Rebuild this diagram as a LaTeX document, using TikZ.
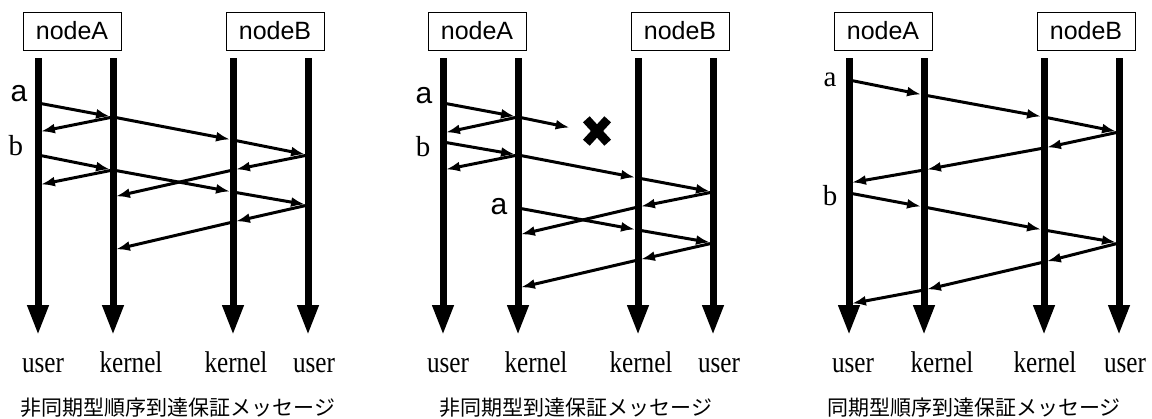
\documentclass[tikz,border=0pt]{standalone}
\usepackage{fontspec}
\setmainfont{Liberation Serif}
\setsansfont{Liberation Sans}
\newfontfamily\condserif[FakeStretch=0.84]{Liberation Serif}
\newfontfamily\jpfont{Noto Sans CJK JP}
\usepackage{tikz}
\usetikzlibrary{positioning}
\usetikzlibrary{arrows.meta}
\usetikzlibrary{calc}

\tikzset{
  hostbox/.style={draw, line width=0.8pt, minimum width=98pt, minimum height=38pt, inner sep=0pt,
    font=\sffamily\fontsize{25}{25}\selectfont},
  timeline/.style={line width=7pt, -{Triangle[length=30pt,width=20pt]}},
  msgarrow/.style={line width=3pt, shorten >=3pt, -{Latex[length=14pt,width=10pt]}},
  layerlabel/.style={anchor=base, inner sep=0pt, font=\condserif\fontsize{30}{30}\selectfont},
  tagsans/.style={inner sep=0pt, font=\sffamily\fontsize{30}{30}\selectfont},
  tagserif/.style={inner sep=0pt, font=\rmfamily\fontsize{29}{29}\selectfont},
  captiontext/.style={inner sep=0pt, font=\jpfont\fontsize{21}{21}\selectfont}
}

\begin{document}
\begin{tikzpicture}[x=1pt, y=-1pt]
\useasboundingbox (0,0) rectangle (1152,418);

%% asynchronous, ordered
\begin{scope}[shift={(38,0)}, name prefix=p1-]
\node[hostbox] (hostA) at (34,31) {nodeA};
\node[hostbox] (hostB) at (237,31) {nodeB};
\coordinate (ua) at (0,58);   \coordinate (ua-end) at (0,335);
\coordinate (ka) at (75,58);  \coordinate (ka-end) at (75,335);
\coordinate (kb) at (195,58); \coordinate (kb-end) at (195,335);
\coordinate (ub) at (270,58); \coordinate (ub-end) at (270,335);
\draw[timeline] (ua) -- (ua-end);
\draw[timeline] (ka) -- (ka-end);
\draw[timeline] (kb) -- (kb-end);
\draw[timeline] (ub) -- (ub-end);
\node[layerlabel] (ua-lab) at (5,372) {user};
\node[layerlabel] (ka-lab) at (93,372) {kernel};
\node[layerlabel] (kb-lab) at (198,372) {kernel};
\node[layerlabel] (ub-lab) at (276,372) {user};
\node[captiontext] (cap) at (140,408) {非同期型順序到達保証メッセージ};

\node[tagsans] (tag-a) at (-19,94) {a};
\node[tagserif] (tag-b) at (-22,146) {b};
\coordinate (a0) at (0,103);   \coordinate (a1) at (75,117);
\coordinate (a2) at (195,140); \coordinate (a3) at (270,155);
\coordinate (a-ack) at (0,132);
\coordinate (b0) at (0,155);   \coordinate (b1) at (75,170);
\coordinate (b2) at (195,192); \coordinate (b3) at (270,205);
\coordinate (b-ack) at (0,185);
\coordinate (ra1) at (195,170); \coordinate (ra2) at (75,197);
\coordinate (rb1) at (195,222); \coordinate (rb2) at (75,250);
\draw[msgarrow] (a0) -- (a1);
\draw[msgarrow] (a1) -- (a2);
\draw[msgarrow] (a2) -- (a3);
\draw[msgarrow] (a1) -- (a-ack);
\draw[msgarrow] (b0) -- (b1);
\draw[msgarrow] (b1) -- (b2);
\draw[msgarrow] (b2) -- (b3);
\draw[msgarrow] (b1) -- (b-ack);
\draw[msgarrow] (a3) -- (ra1);
\draw[msgarrow] (ra1) -- (ra2);
\draw[msgarrow] (b3) -- (rb1);
\draw[msgarrow] (rb1) -- (rb2);
\end{scope}

%% asynchronous, unordered (a is lost)
\begin{scope}[shift={(443,0)}, name prefix=p2-]
\node[hostbox] (hostA) at (34,31) {nodeA};
\node[hostbox] (hostB) at (237,31) {nodeB};
\coordinate (ua) at (0,58);   \coordinate (ua-end) at (0,335);
\coordinate (ka) at (75,58);  \coordinate (ka-end) at (75,335);
\coordinate (kb) at (195,58); \coordinate (kb-end) at (195,335);
\coordinate (ub) at (270,58); \coordinate (ub-end) at (270,335);
\draw[timeline] (ua) -- (ua-end);
\draw[timeline] (ka) -- (ka-end);
\draw[timeline] (kb) -- (kb-end);
\draw[timeline] (ub) -- (ub-end);
\node[layerlabel] (ua-lab) at (5,372) {user};
\node[layerlabel] (ka-lab) at (93,372) {kernel};
\node[layerlabel] (kb-lab) at (198,372) {kernel};
\node[layerlabel] (ub-lab) at (276,372) {user};
\node[captiontext] (cap) at (133,408) {非同期型到達保証メッセージ};

\node[tagsans] (tag-a) at (-19,96) {a};
\node[tagserif] (tag-b) at (-20,147) {b};
\node[tagsans] (tag-a2) at (56,207) {a};
\coordinate (a0) at (0,103);   \coordinate (a1) at (75,117);
\coordinate (a-ack) at (0,133);
\node[minimum width=21pt, minimum height=23pt, inner sep=0pt] (lost) at (154,131) {};
\draw[line width=9pt] (lost.north west) -- (lost.south east);
\draw[line width=9pt] (lost.north east) -- (lost.south west);
\coordinate (b0) at (0,142);   \coordinate (b1) at (75,155);
\coordinate (b2) at (195,178); \coordinate (b3) at (270,192);
\coordinate (b-ack) at (0,170);
\coordinate (rb1) at (195,207); \coordinate (rb2) at (75,235);
\coordinate (c1) at (75,208);  \coordinate (c2) at (195,230);
\coordinate (c3) at (270,243);
\coordinate (rc1) at (195,260); \coordinate (rc2) at (75,288);
\draw[msgarrow] (a0) -- (a1);
\draw[msgarrow, shorten >=17pt] (a1) -- (lost.west);
\draw[msgarrow] (a1) -- (a-ack);
\draw[msgarrow] (b0) -- (b1);
\draw[msgarrow] (b1) -- (b2);
\draw[msgarrow] (b2) -- (b3);
\draw[msgarrow] (b1) -- (b-ack);
\draw[msgarrow] (b3) -- (rb1);
\draw[msgarrow] (rb1) -- (rb2);
\draw[msgarrow] (c1) -- (c2);
\draw[msgarrow] (c2) -- (c3);
\draw[msgarrow] (c3) -- (rc1);
\draw[msgarrow] (rc1) -- (rc2);
\end{scope}

%% synchronous, ordered
\begin{scope}[shift={(849,0)}, name prefix=p3-]
\node[hostbox] (hostA) at (34,31) {nodeA};
\node[hostbox] (hostB) at (237,31) {nodeB};
\coordinate (ua) at (0,58);   \coordinate (ua-end) at (0,335);
\coordinate (ka) at (75,58);  \coordinate (ka-end) at (75,335);
\coordinate (kb) at (195,58); \coordinate (kb-end) at (195,335);
\coordinate (ub) at (270,58); \coordinate (ub-end) at (270,335);
\draw[timeline] (ua) -- (ua-end);
\draw[timeline] (ka) -- (ka-end);
\draw[timeline] (kb) -- (kb-end);
\draw[timeline] (ub) -- (ub-end);
\node[layerlabel] (ua-lab) at (4,372) {user};
\node[layerlabel] (ka-lab) at (93,372) {kernel};
\node[layerlabel] (kb-lab) at (196,372) {kernel};
\node[layerlabel] (ub-lab) at (276,372) {user};
\node[captiontext] (cap) at (125,408) {同期型順序到達保証メッセージ};

\node[tagserif] (tag-a) at (-19,80) {a};
\node[tagserif] (tag-b) at (-19,196) {b};
\coordinate (a0) at (0,80);    \coordinate (a1) at (75,95);
\coordinate (a2) at (195,117); \coordinate (a3) at (270,132);
\coordinate (a4) at (195,148); \coordinate (a5) at (75,170);
\coordinate (a6) at (0,183);
\coordinate (b0) at (0,193);   \coordinate (b1) at (75,207);
\coordinate (b2) at (195,230); \coordinate (b3) at (270,243);
\coordinate (b4) at (195,262); \coordinate (b5) at (75,290);
\coordinate (b6) at (0,304);
\draw[msgarrow] (a0) -- (a1);
\draw[msgarrow] (a1) -- (a2);
\draw[msgarrow] (a2) -- (a3);
\draw[msgarrow] (a3) -- (a4);
\draw[msgarrow] (a4) -- (a5);
\draw[msgarrow] (a5) -- (a6);
\draw[msgarrow] (b0) -- (b1);
\draw[msgarrow] (b1) -- (b2);
\draw[msgarrow] (b2) -- (b3);
\draw[msgarrow] (b3) -- (b4);
\draw[msgarrow] (b4) -- (b5);
\draw[msgarrow] (b5) -- (b6);
\end{scope}
\end{tikzpicture}
\end{document}
